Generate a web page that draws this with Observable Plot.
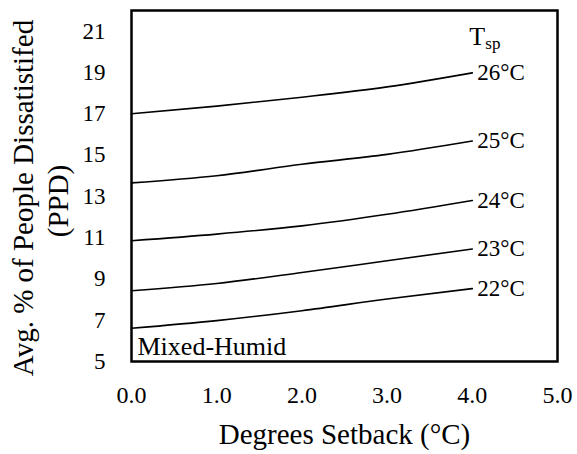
<!DOCTYPE html>
<html>
<head>
<meta charset="utf-8">
<script src="https://cdn.jsdelivr.net/npm/d3@7"></script>
<script src="https://cdn.jsdelivr.net/npm/@observablehq/plot@0.6"></script>
<style>
  html, body { margin: 0; padding: 0; background: #fff; }
  #chart svg { display: block; }
</style>
</head>
<body>
<div id="chart"></div>
<script>
const setback = [0, 1, 2, 3, 4];
const setpoints = ["22°C", "23°C", "24°C", "25°C", "26°C"];
const ppd22 = [6.61, 6.98, 7.46, 8.03, 8.53];
const ppd23 = [8.43, 8.78, 9.31, 9.88, 10.45];
const ppd24 = [10.85, 11.17, 11.57, 12.13, 12.8];
const ppd25 = [13.65, 14.0, 14.55, 15.03, 15.68];
const ppd26 = [17.0, 17.37, 17.8, 18.3, 18.98];
const xTicks = [0, 1, 2, 3, 4, 5];
const yTicks = [5, 7, 9, 11, 13, 15, 17, 19, 21];

const seriesValues = [ppd22, ppd23, ppd24, ppd25, ppd26];
const rows = [];
setpoints.forEach((s, i) => setback.forEach((x, j) => rows.push({sp: s, x, y: seriesValues[i][j]})));
const ends = setpoints.map((s, i) => ({sp: s, x: setback[setback.length - 1], y: seriesValues[i][setback.length - 1]}));

const font = "'Liberation Serif', 'Times New Roman', serif";

const chart = Plot.plot({
  width: 577,
  height: 454,
  marginLeft: 131,
  marginRight: 20,
  marginTop: 10,
  marginBottom: 93,
  style: {fontFamily: font, color: "#000", background: "#fff"},
  x: {domain: [0, 5]},
  y: {domain: [5, 22]},
  marks: [
    Plot.axisX({ticks: xTicks, tickSize: 0, tickPadding: 24, fontSize: 24, tickFormat: d => d.toFixed(1), label: null}),
    Plot.axisY({ticks: yTicks, tickSize: 0, tickPadding: 26, fontSize: 23, label: null}),
    Plot.line(rows, {x: "x", y: "y", z: "sp", stroke: "black", strokeWidth: 1.6, curve: "monotone-x"}),
    Plot.text(ends, {x: "x", y: "y", text: "sp", dx: 5, textAnchor: "start", fontSize: 23, fill: "black"}),
    Plot.text(["T"], {x: 4, y: 20.75, text: d => d, textAnchor: "start", dx: -3, fontSize: 26, fill: "black"}),
    Plot.text(["sp"], {x: 4, y: 20.75, text: d => d, textAnchor: "start", dx: 13, dy: 7, fontSize: 17, fill: "black"}),
    Plot.text(["Mixed-Humid"], {frameAnchor: "bottom-left", text: d => d, dx: 6, dy: -7, fontSize: 26, fill: "black"}),
    Plot.text(["Degrees Setback (°C)"], {frameAnchor: "bottom", text: d => d, lineAnchor: "middle", dy: 73, fontSize: 29, fill: "black"}),
    Plot.text(["Avg. % of People Dissatistifed"], {frameAnchor: "left", textAnchor: "middle", lineAnchor: "middle", text: d => d, rotate: -90, dx: -108, dy: 12, fontSize: 29, fill: "black"}),
    Plot.text(["(PPD)"], {frameAnchor: "left", textAnchor: "middle", lineAnchor: "middle", text: d => d, rotate: -90, dx: -73, dy: 15, fontSize: 29, fill: "black"}),
    Plot.frame({stroke: "black", strokeWidth: 2.5})
  ]
});
document.getElementById("chart").appendChild(chart);
</script>
</body>
</html>
